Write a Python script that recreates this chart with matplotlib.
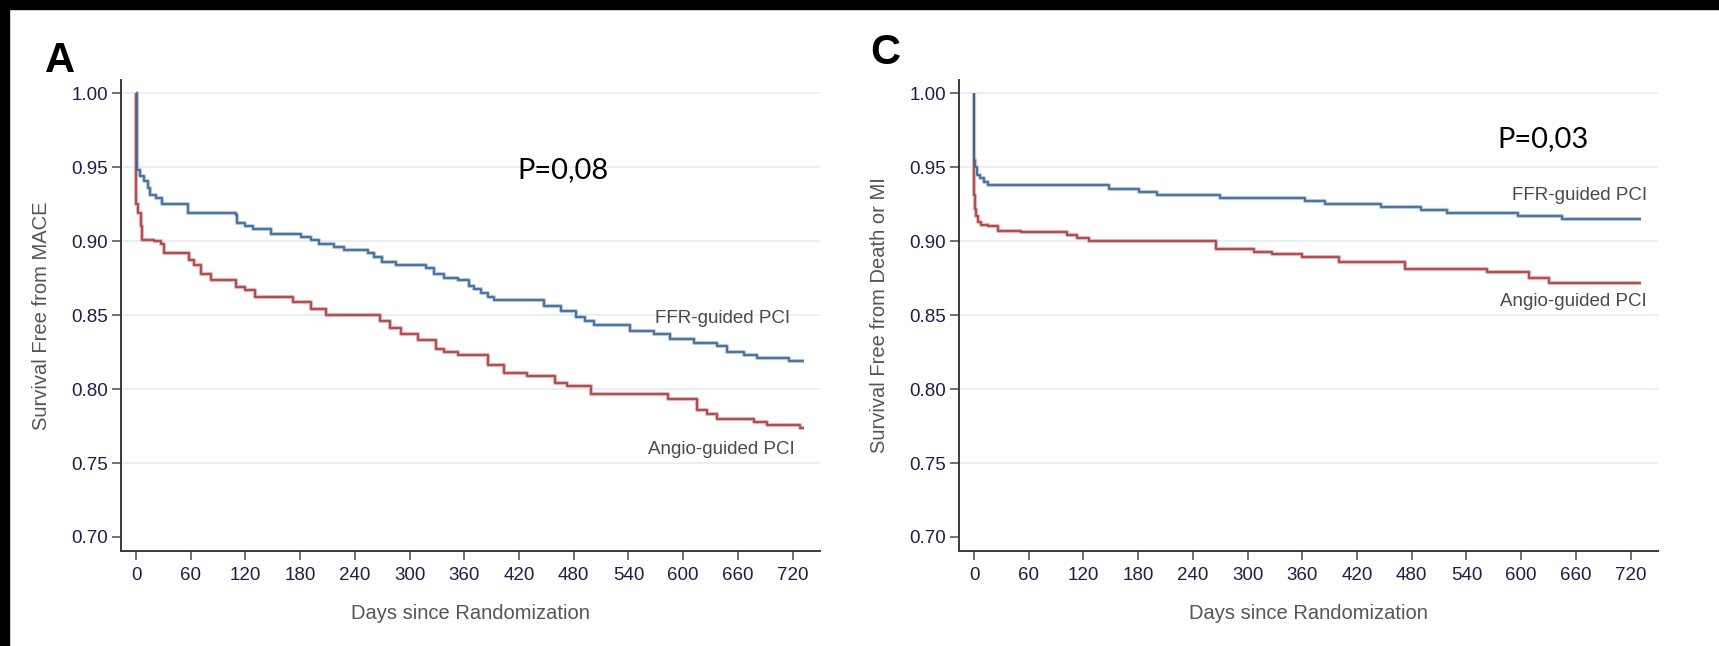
import matplotlib.pyplot as plt
from matplotlib.patches import Rectangle

# ---- data ----
dias_ffr_a = [0, 0.5, 4, 9, 13, 15, 22, 29, 57, 110, 111, 119, 128, 148, 181, 192, 201, 217,
              228, 254, 261, 270, 285, 318, 327, 338, 353, 365, 371, 378, 386, 393, 447, 466,
              482, 492, 502, 542, 568, 586, 612, 637, 648, 667, 681, 716, 732]
surv_ffr_a = [1.0, 0.948, 0.944, 0.941, 0.936, 0.931, 0.929, 0.925, 0.919, 0.918, 0.912, 0.910,
              0.908, 0.905, 0.903, 0.901, 0.898, 0.896, 0.894, 0.892, 0.889, 0.886, 0.884, 0.882,
              0.878, 0.875, 0.874, 0.870, 0.868, 0.865, 0.862, 0.860, 0.856, 0.853, 0.849, 0.846,
              0.843, 0.839, 0.837, 0.834, 0.831, 0.829, 0.825, 0.823, 0.821, 0.819, 0.819]

dias_ang_a = [0, 0.3, 2, 5, 7, 20, 27, 31, 58, 64, 71, 82, 110, 119, 130, 172, 192, 208, 268,
              278, 290, 309, 329, 338, 353, 386, 404, 429, 459, 473, 499, 583, 615, 626, 637,
              678, 692, 728, 732]
surv_ang_a = [1.0, 0.925, 0.919, 0.910, 0.901, 0.900, 0.898, 0.892, 0.887, 0.884, 0.878, 0.874,
              0.869, 0.867, 0.862, 0.859, 0.854, 0.850, 0.846, 0.841, 0.837, 0.833, 0.827, 0.825,
              0.823, 0.816, 0.811, 0.809, 0.804, 0.802, 0.797, 0.793, 0.786, 0.783, 0.780, 0.778,
              0.776, 0.774, 0.774]

dias_ffr_c = [0, 0.3, 1, 3.7, 7, 11, 15, 148, 181, 201, 270, 363, 385, 446, 490, 519, 597, 645, 731]
surv_ffr_c = [1.0, 0.955, 0.950, 0.945, 0.943, 0.940, 0.938, 0.935, 0.933, 0.931, 0.929, 0.927,
              0.925, 0.923, 0.921, 0.919, 0.917, 0.915, 0.915]

dias_ang_c = [0, 0.3, 0.7, 2.6, 4.7, 7.3, 15, 26, 51, 102, 113, 126, 265, 307, 327, 360, 400,
              473, 563, 608, 630, 731]
surv_ang_c = [1.0, 0.931, 0.922, 0.917, 0.913, 0.911, 0.910, 0.907, 0.906, 0.904, 0.902, 0.900,
              0.895, 0.893, 0.891, 0.889, 0.886, 0.881, 0.879, 0.875, 0.872, 0.872]

xticks = list(range(0, 721, 60))
yticks = [0.70, 0.75, 0.80, 0.85, 0.90, 0.95, 1.00]

paneles = [
    dict(letra='A', ylabel='Survival Free from MACE', p='P=0,08',
         ffr=(dias_ffr_a, surv_ffr_a), ang=(dias_ang_a, surv_ang_a),
         pos_p=(468, 0.948), pos_ffr=(717, 0.848), pos_ang=(722, 0.759)),
    dict(letra='C', ylabel='Survival Free from Death or MI', p='P=0,03',
         ffr=(dias_ffr_c, surv_ffr_c), ang=(dias_ang_c, surv_ang_c),
         pos_p=(624, 0.969), pos_ffr=(738, 0.931), pos_ang=(738, 0.859)),
]

azul, azul_halo = '#3b6492', '#b4c7da'
rojo, rojo_halo = '#a63d40', '#e0b4b4'

plt.rcParams['font.family'] = ['Liberation Sans', 'DejaVu Sans']

W, H = 1719, 646
fig = plt.figure(figsize=(W / 100, H / 100), dpi=100)
fig.patch.set_facecolor('white')

# black frame of the screenshot
fig.add_artist(Rectangle((0, 1 - 9 / H), 1, 9 / H, transform=fig.transFigure,
                         color='black', zorder=0))
fig.add_artist(Rectangle((0, 0), 9 / W, 1, transform=fig.transFigure,
                         color='black', zorder=0))

ejes_izq = [121, 959]
for izq, pan in zip(ejes_izq, paneles):
    ax = fig.add_axes([izq / W, 1 - 551 / H, 699 / W, 471 / H])
    ax.set_xlim(-16.5, 750)
    ax.set_ylim(0.6905, 1.009)

    for y in yticks[1:]:
        ax.axhline(y, color='#e6eff0', lw=1.3, zorder=0)

    for (t, s), c, h in [(pan['ang'], rojo, rojo_halo), (pan['ffr'], azul, azul_halo)]:
        ax.step(t, s, where='post', color=h, lw=3.0, zorder=2, solid_capstyle='butt')
        ax.step(t, s, where='post', color=c, lw=1.2, zorder=3, solid_capstyle='butt')

    ax.spines['top'].set_visible(False)
    ax.spines['right'].set_visible(False)
    for sp in ['left', 'bottom']:
        ax.spines[sp].set_color('#3a3a3a')
        ax.spines[sp].set_linewidth(1.4)

    ax.set_xticks(xticks)
    ax.set_yticks(yticks)
    ax.set_yticklabels(['%.2f' % v for v in yticks])
    ax.tick_params(axis='both', length=6.5, width=1.3, color='#666666',
                   labelcolor='#1e1e46', labelsize=13.5)
    ax.tick_params(axis='y', pad=3)
    ax.tick_params(axis='x', pad=5)

    ax.set_xlabel('Days since Randomization', fontsize=14.5, color='#555555')
    ax.set_ylabel(pan['ylabel'], fontsize=14.5, color='#555555')
    ax.xaxis.set_label_coords(0.5, -0.112)
    ax.yaxis.set_label_coords(-0.100, 0.5)

    ax.text(pan['pos_ffr'][0], pan['pos_ffr'][1], 'FFR-guided PCI', ha='right', va='center',
            fontsize=13.5, color='#4a4a4a')
    ax.text(pan['pos_ang'][0], pan['pos_ang'][1], 'Angio-guided PCI', ha='right', va='center',
            fontsize=13.5, color='#4a4a4a')
    ax.text(pan['pos_p'][0], pan['pos_p'][1], pan['p'], ha='center', va='center',
            fontsize=21, color='black', family=['Lato', 'DejaVu Sans'])

fig.text(60 / W, 1 - 61 / H, 'A', fontsize=30, fontweight='bold', ha='center', va='center',
         color='black')
fig.text(885 / W, 1 - 53 / H, 'C', fontsize=30, fontweight='bold', ha='center', va='center',
         color='black')

fig.savefig('out.png', dpi=100, facecolor='white')
